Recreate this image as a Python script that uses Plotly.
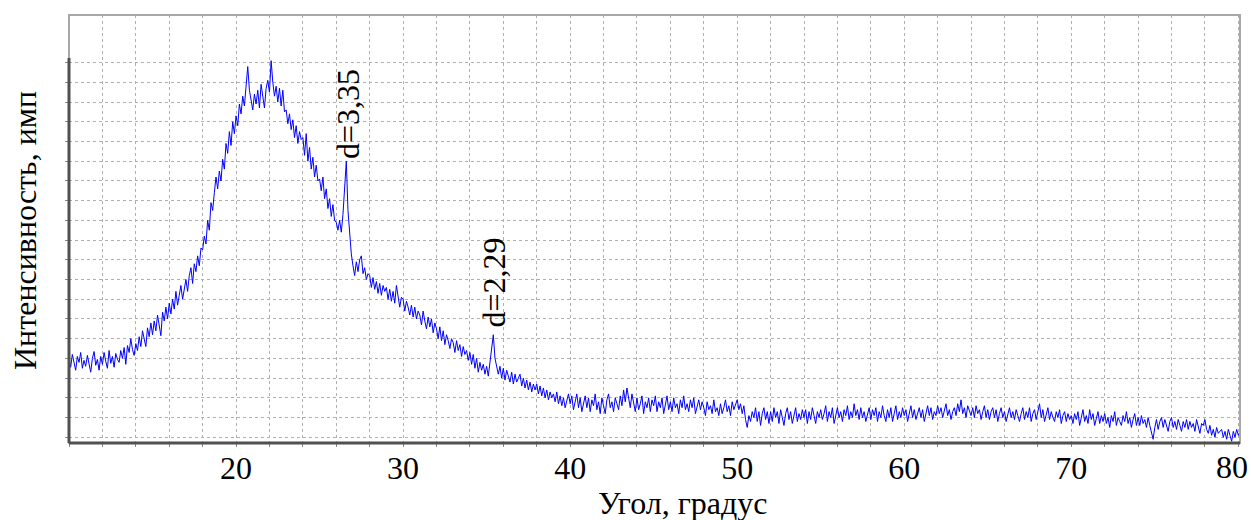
import plotly.graph_objects as go

# ---- data ----
angle_start = 10.0
angle_step = 0.1
intensity = [
    500, 455, 520, 470, 440, 510, 480, 530, 450, 490,
    460, 515, 475, 430, 500, 535, 465, 495, 440, 510,
    470, 530, 485, 450, 540, 475, 510, 455, 525, 495,
    480, 540, 500, 555, 470, 565, 530, 600, 545, 515,
    575, 540, 610, 560, 640, 590, 560, 655, 610, 680,
    620, 690, 640, 720, 660, 615, 735, 690, 760, 700,
    780, 725, 800, 750, 840, 770, 820, 870, 800, 850,
    900, 840, 920, 960, 880, 980, 940, 1020, 970, 1060,
    1050, 1120, 1080, 1200, 1150, 1290, 1250, 1340, 1420, 1360,
    1450, 1400, 1510, 1460, 1590, 1540, 1650, 1580, 1700, 1640,
    1730, 1680, 1790, 1740, 1830, 1780, 1890, 1980, 1860, 1810,
    1760, 1840, 1790, 1860, 1770, 1890, 1830, 1770, 1870, 1910,
    1850, 2010, 1900, 1830, 1880, 1800, 1870, 1780, 1860, 1750,
    1760, 1690, 1740, 1660, 1710, 1620, 1680, 1590, 1650, 1610,
    1620, 1530, 1640, 1500, 1570, 1460, 1520, 1420, 1480, 1400,
    1410, 1350, 1420, 1310, 1360, 1260, 1310, 1220, 1280, 1200,
    1190, 1150, 1200, 1140, 1230, 1350, 1500, 1250, 1120, 1030,
    970, 920, 990, 940, 1000, 1020, 930, 960, 900, 930,
    920, 860, 910, 850, 890, 830, 880, 820, 870, 840,
    860, 800, 850, 790, 840, 780, 870, 800, 760, 810,
    800, 740, 790, 760, 720, 770, 710, 760, 700, 740,
    720, 670, 740, 690, 650, 710, 660, 700, 630, 680,
    650, 600, 660, 590, 640, 570, 620, 590, 550, 600,
    580, 530, 590, 540, 570, 510, 560, 520, 540, 490,
    530, 470, 520, 450, 500, 430, 480, 440, 470, 420,
    460, 410, 480, 560, 620, 500, 450, 420, 460, 400,
    450, 390, 440, 410, 380, 430, 370, 420, 380, 400,
    420, 360, 400, 350, 390, 340, 380, 330, 370, 340,
    370, 320, 360, 310, 350, 300, 340, 290, 330, 300,
    320, 280, 330, 270, 310, 260, 300, 250, 290, 320,
    270, 310, 240, 290, 320, 250, 300, 230, 280, 310,
    250, 300, 230, 290, 260, 320, 240, 280, 220, 300,
    260, 220, 290, 320, 250, 280, 230, 300, 270, 240,
    310, 260, 340, 280, 350, 300, 250, 320, 270, 230,
    300, 240, 270, 310, 220, 280, 250, 300, 230, 290,
    260, 310, 230, 280, 250, 300, 220, 270, 310, 240,
    280, 230, 300, 250, 270, 220, 290, 250, 310, 240,
    270, 230, 290, 250, 300, 220, 260, 290, 240, 280,
    250, 210, 280, 240, 260, 220, 290, 230, 250, 210,
    270, 220, 250, 290, 230, 260, 210, 280, 240, 270,
    290, 240, 270, 220, 260, 190, 150, 210, 180, 230,
    200, 250, 180, 230, 160, 220, 250, 190, 230, 170,
    230, 180, 250, 200, 230, 170, 240, 200, 160, 220,
    250, 190, 230, 170, 210, 250, 180, 220, 190, 240,
    200, 240, 170, 230, 190, 250, 210, 170, 230, 200,
    240, 190, 220, 260, 180, 230, 200, 250, 170, 220,
    250, 200, 230, 180, 240, 210, 260, 190, 230, 200,
    270, 210, 240, 190, 250, 200, 230, 180, 220, 250,
    190, 240, 210, 250, 180, 230, 200, 260, 210, 180,
    240, 200, 250, 180, 220, 260, 190, 230, 200, 250,
    210, 240, 180, 230, 260, 200, 240, 190, 220, 250,
    200, 240, 180, 230, 260, 210, 250, 190, 230, 210,
    260, 220, 250, 200, 240, 270, 210, 240, 190, 230,
    250, 210, 270, 230, 290, 220, 250, 200, 260, 230,
    210, 250, 200, 260, 220, 240, 190, 230, 260, 200,
    240, 190, 230, 250, 200, 240, 180, 220, 250, 200,
    230, 180, 220, 250, 200, 230, 190, 240, 210, 180,
    220, 250, 190, 230, 200, 250, 180, 220, 240, 190,
    230, 270, 200, 240, 180, 220, 250, 190, 230, 200,
    180, 230, 200, 240, 170, 210, 230, 180, 220, 190,
    210, 170, 220, 190, 230, 160, 200, 240, 180, 210,
    170, 240, 190, 220, 160, 200, 230, 170, 210, 180,
    220, 170, 200, 150, 210, 180, 230, 160, 200, 180,
    160, 210, 180, 230, 170, 200, 150, 190, 220, 160,
    200, 160, 210, 170, 190, 150, 200, 160, 120, 90,
    150, 190, 140, 180, 200, 150, 190, 160, 130, 180,
    200, 150, 180, 140, 190, 160, 130, 180, 150, 190,
    140, 180, 150, 170, 130, 190, 150, 120, 170, 160,
    190, 140, 120, 160, 110, 140, 100, 150, 120, 130,
    140, 100, 130, 90, 140, 110, 80, 130, 100, 140,
    110, 130,
]
angle = [round(angle_start + i * angle_step, 2) for i in range(len(intensity))]

x_tick_vals = [20, 30, 40, 50, 60, 70]
x_tick_text = ["20", "30", "40", "50", "60", "70"]
x_last_tick = "80"
y_grid_vals = [100, 200, 300, 400, 500, 600, 700, 800, 900, 1000,
               1100, 1200, 1300, 1400, 1500, 1600, 1700, 1800, 1900, 2000]

peak_labels = ["d=3,35", "d=2,29"]
peak_label_x = [26.7, 35.45]
peak_label_y = [1739, 885]

x_title = "Угол, градус"
y_title = "Интенсивность, имп"

x_range = [10.0, 80.1]
y_range = [71, 2241.5]
data_top = 2023

FONT = "Liberation Serif, Times New Roman, serif"
FS = 32

fig = go.Figure()
fig.add_trace(go.Scatter(
    x=angle, y=intensity, mode="lines",
    line=dict(color="#0000ff", width=1),
    showlegend=False, hoverinfo="skip",
))

fig.update_layout(
    width=1251, height=520,
    margin=dict(l=69, r=11, t=15, b=77, autoexpand=False),
    paper_bgcolor="white", plot_bgcolor="white",
    font=dict(family=FONT, color="black", size=FS),
    xaxis=dict(
        range=x_range, tickvals=x_tick_vals + [80], ticktext=x_tick_text + [""],
        automargin=False,
        showgrid=False, zeroline=False, showline=False,
        ticks="outside", ticklen=3, tickcolor="#888888",
        ticklabeloverflow="allow", ticklabelstandoff=-6,
        tickfont=dict(family=FONT, size=FS, color="black"),
        minor=dict(tick0=10, dtick=2, showgrid=True, gridcolor="#b0b0b0",
                   griddash="dot", gridwidth=1,
                   ticks="outside", ticklen=3, tickcolor="#888888"),
    ),
    yaxis=dict(
        range=y_range, tickvals=y_grid_vals, showticklabels=False,
        automargin=False,
        showgrid=True, gridcolor="#b0b0b0", griddash="dot", gridwidth=1,
        zeroline=False, showline=False,
        ticks="outside", ticklen=3, tickcolor="#888888",
    ),
)

# frame
fig.add_shape(type="rect", xref="paper", yref="paper", x0=0, x1=1, y0=0, y1=1,
              line=dict(color="#a8a8a8", width=2), layer="above")
fig.add_shape(type="line", xref="paper", yref="paper", x0=0, x1=1, y0=0, y1=0,
              line=dict(color="#505050", width=3), layer="above")
fig.add_shape(type="line", xref="paper", yref="y", x0=0, x1=0, y0=y_range[0], y1=data_top,
              line=dict(color="#505050", width=3), layer="above")

for txt, px, py in zip(peak_labels, peak_label_x, peak_label_y):
    fig.add_annotation(x=px, y=py, xref="x", yref="y", text=txt, textangle=-90,
                       showarrow=False, font=dict(family=FONT, size=FS, color="black"),
                       xanchor="center", yanchor="middle")

# last tick label kept inside the page (the reference shows it pushed against the right edge)
fig.add_annotation(x=(1250 - 69) / 1171, y=(443 - 467) / 428, xref="paper", yref="paper",
                   text=x_last_tick, showarrow=False, xanchor="right", yanchor="middle",
                   font=dict(family=FONT, size=FS, color="black"))

fig.add_annotation(x=(683 - 69) / 1171, y=(443 - 503) / 428, xref="paper", yref="paper",
                   text=x_title, showarrow=False, xanchor="center", yanchor="middle",
                   font=dict(family=FONT, size=FS, color="black"))
fig.add_annotation(x=(25 - 69) / 1171, y=(443 - 231) / 428, xref="paper", yref="paper",
                   text=y_title, textangle=-90, showarrow=False, xanchor="center",
                   yanchor="middle", font=dict(family=FONT, size=FS, color="black"))

fig.write_html("out.html")
